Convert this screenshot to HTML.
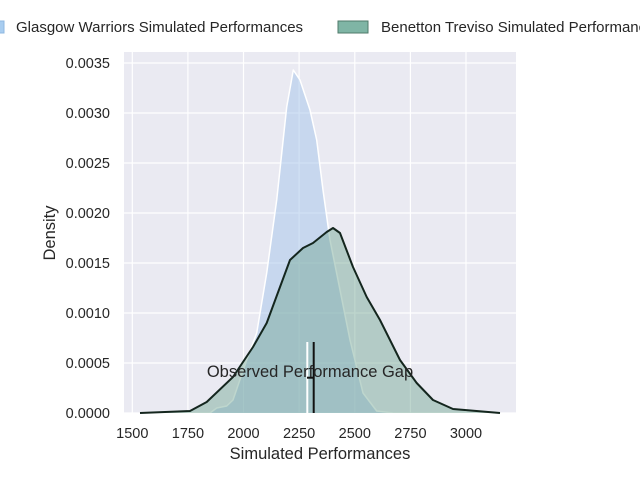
<!DOCTYPE html>
<html><head><meta charset="utf-8"><style>
html,body{margin:0;padding:0;background:#fff;}
svg{display:block;font-family:"Liberation Sans",Arial,sans-serif;}
</style></head><body>
<svg width="640" height="480" viewBox="0 0 640 480">
<rect x="124" y="52" width="392" height="361" fill="#eaeaf2"/>
<g stroke="#fff" stroke-width="1.2">
<line x1="132.3" y1="52" x2="132.3" y2="413"/>
<line x1="187.9" y1="52" x2="187.9" y2="413"/>
<line x1="243.5" y1="52" x2="243.5" y2="413"/>
<line x1="299.1" y1="52" x2="299.1" y2="413"/>
<line x1="354.8" y1="52" x2="354.8" y2="413"/>
<line x1="410.4" y1="52" x2="410.4" y2="413"/>
<line x1="466" y1="52" x2="466" y2="413"/>
<line x1="124" y1="413" x2="516" y2="413"/>
<line x1="124" y1="363" x2="516" y2="363"/>
<line x1="124" y1="313" x2="516" y2="313"/>
<line x1="124" y1="263" x2="516" y2="263"/>
<line x1="124" y1="213" x2="516" y2="213"/>
<line x1="124" y1="163" x2="516" y2="163"/>
<line x1="124" y1="113" x2="516" y2="113"/>
<line x1="124" y1="63" x2="516" y2="63"/>
</g>
<path d="M210,413 L216.7,408 L226.7,406 L233,400 L246.7,360 L256.7,333 L266.7,273 L276.7,200 L286.7,107 L293.3,70 L300,80 L310,110 L316.7,140 L323,190 L330,240 L340,290 L350,340 L363,393 L376.7,411 L393,413 Z" fill="#a4c4ea" fill-opacity="0.5" stroke="none"/>
<path d="M210,413 L216.7,408 L226.7,406 L233,400 L246.7,360 L256.7,333 L266.7,273 L276.7,200 L286.7,107 L293.3,70 L300,80 L310,110 L316.7,140 L323,190 L330,240 L340,290 L350,340 L363,393 L376.7,411 L393,413" fill="none" stroke="#fff" stroke-width="1.5" stroke-linejoin="round"/>
<path d="M140,413 L190,411 L206.7,402 L233,377 L253,347 L266.7,323 L280,287 L290,260 L303,248 L313,243 L326.7,232 L333,228 L340,233 L353,267 L366.7,297 L380,320 L400,360 L416.7,383 L433,400 L453,409 L500,413 Z" fill="#72a692" fill-opacity="0.46" stroke="none"/>
<path d="M140,413 L190,411 L206.7,402 L233,377 L253,347 L266.7,323 L280,287 L290,260 L303,248 L313,243 L326.7,232 L333,228 L340,233 L353,267 L366.7,297 L380,320 L400,360 L416.7,383 L433,400 L453,409 L500,413" fill="none" stroke="#14261e" stroke-width="2" stroke-linejoin="round"/>
<line x1="307.3" y1="342" x2="307.3" y2="413" stroke="#fff" stroke-width="2"/>
<line x1="313.7" y1="342" x2="313.7" y2="413" stroke="#111" stroke-width="2"/>
<line x1="307" y1="377.7" x2="314" y2="377.7" stroke="#111" stroke-width="2"/>
<text x="310" y="377" font-size="16.5" fill="#262626" text-anchor="middle">Observed Performance Gap</text>
<g font-size="14.5" fill="#262626" text-anchor="middle">
<text x="132.3" y="438">1500</text><text x="187.9" y="438">1750</text><text x="243.5" y="438">2000</text><text x="299.1" y="438">2250</text><text x="354.8" y="438">2500</text><text x="410.4" y="438">2750</text><text x="466" y="438">3000</text>
</g>
<g font-size="14.5" fill="#262626" text-anchor="end">
<text x="110" y="418">0.0000</text><text x="110" y="368">0.0005</text><text x="110" y="318">0.0010</text><text x="110" y="268">0.0015</text><text x="110" y="218">0.0020</text><text x="110" y="168">0.0025</text><text x="110" y="118">0.0030</text><text x="110" y="68">0.0035</text>
</g>
<text x="320" y="459" font-size="16.5" fill="#262626" text-anchor="middle">Simulated Performances</text>
<text x="55" y="233" font-size="16.5" fill="#262626" text-anchor="middle" transform="rotate(-90 55 233)">Density</text>
<rect x="-20" y="21" width="24" height="12" fill="#a8cdf0" stroke="#8fb8e0"/>
<text x="16" y="32" font-size="15" fill="#262626">Glasgow Warriors Simulated Performances</text>
<rect x="338" y="21" width="30" height="12" fill="#7fb5a5" stroke="#4f7a6a"/>
<text x="381" y="32" font-size="15" fill="#262626">Benetton Treviso Simulated Performances</text>
</svg>
</body></html>
